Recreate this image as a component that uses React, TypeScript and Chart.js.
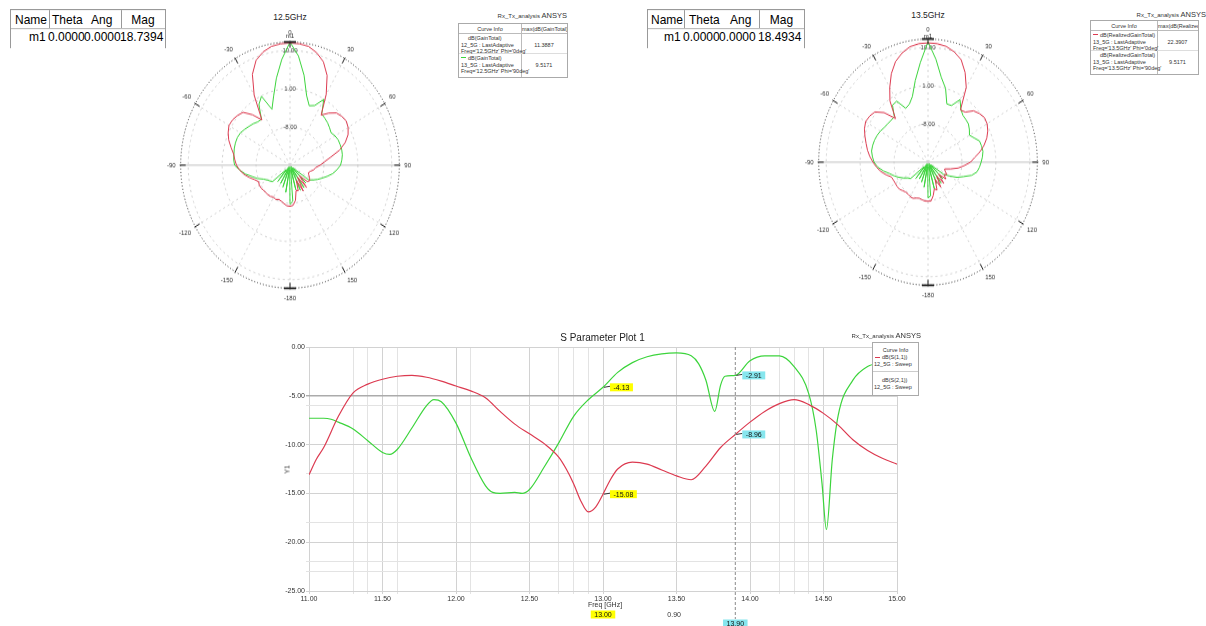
import React, { useEffect, useRef } from 'react';
import { Chart, registerables } from 'chart.js';

Chart.register(...registerables);

const FONT = '"Liberation Sans", Arial, Helvetica, sans-serif';
const RED = '#dc3a50';
const GREEN = '#3cd43c';

// ---------------- Polar (radiation pattern) data ----------------
const polarAngleLabels = [
  0, 5, 10, 15, 20, 25, 30, 35, 40, 45, 50, 55, 60, 65, 70, 75, 80, 85,
  90, 95, 100, 105, 110, 115, 120, 125, 130, 135, 140, 145, 150, 155, 160, 165, 170, 175,
  -180, -175, -170, -165, -160, -155, -150, -145, -140, -135, -130, -125, -120, -115, -110, -105, -100, -95,
  -90, -85, -80, -75, -70, -65, -60, -55, -50, -45, -40, -35, -30, -25, -20, -15, -10, -5,
];
const polarMin = -17;
const polarMax = 12;
const polarRingTicks = [-17, -8, 1, 10, 12];

const gain125Red = [
  11.8, 11.7, 11.4, 10.4, 8.9, 6.3, 2.2, -2.6, -1.0, 0.4, 0.9, 1.2, 0.8, 0.0, -1.4, -3.4, -6.0, -7.8,
  -9.0, -10.2, -10.6, -11.4, -11.8, -11.5, -11.0, -10.6, -11.0, -13.5, -10.2, -13.5, -10.0, -13.0, -10.6, -10.8, -8.6, -7.5,
  -7.3, -7.4, -7.8, -8.2, -8.4, -8.1, -8.3, -8.0, -7.9, -7.9, -7.8, -7.6, -7.6, -7.8, -7.0, -5.8, -4.6, -3.6,
  -2.8, -2.3, -1.8, -0.8, 0.3, 1.1, 1.7, 1.6, 1.2, 0.6, -1.5, -4.0, 2.0, 6.6, 9.3, 10.6, 11.4, 11.7,
];
const gain125Green = [
  12.0, 8.8, 4.5, 0.0, -2.1, -1.5, 0.9, -2.3, -2.6, -2.9, -3.3, -3.7, -3.2, -2.9, -2.85, -2.8, -2.9, -3.2,
  -3.6, -4.5, -5.5, -6.8, -8.0, -9.0, -10.0, -10.9, -16.0, -11.0, -16.5, -10.5, -16.0, -10.5, -16.5, -11.0, -16.0, -8.5,
  -7.8, -16.0, -10.5, -16.5, -11.5, -16.0, -12.0, -16.5, -12.0, -15.5, -11.0, -10.5, -10.0, -9.2, -7.8, -6.6, -5.0, -3.6,
  -2.3, -2.0, -1.9, -1.7, -1.6, -1.6, -1.8, -2.3, -2.8, -3.2, -3.7, -3.8, -0.5, 0.9, -3.0, -0.2, 3.8, 8.0,
];
const gain135Red = [
  11.1, 11.0, 10.7, 9.9, 8.7, 6.3, 3.3, -2.0, -1.6, 0.1, 0.8, 1.3, 1.1, 0.5, -0.4, -1.6, -3.0, -4.6,
  -5.7, -7.4, -8.9, -10.8, -12.3, -12.0, -11.2, -11.8, -10.8, -13.0, -10.5, -13.0, -10.2, -12.5, -10.0, -10.5, -9.0, -7.8,
  -7.8, -7.8, -8.0, -8.2, -8.0, -7.6, -7.6, -7.8, -7.8, -7.5, -7.1, -7.0, -7.0, -6.9, -6.7, -5.5, -4.3, -3.3,
  -2.4, -1.5, -0.7, 0.0, 0.8, 1.6, 2.1, 1.9, 1.4, -0.5, -3.6, 0.6, 3.3, 6.0, 8.2, 9.6, 10.6, 11.0,
];
const gain135Green = [
  11.4, 7.3, 3.3, 1.0, -2.4, -2.3, 0.0, -1.8, -2.6, -2.8, -3.0, -3.6, -4.3, -3.5, -2.45, -2.3, -2.2, -2.5,
  -2.9, -3.3, -3.8, -5.0, -7.0, -8.5, -10.5, -12.0, -16.0, -11.5, -16.5, -11.0, -16.0, -11.5, -16.5, -10.5, -16.0, -9.0,
  -8.6, -16.0, -11.0, -16.5, -12.0, -16.0, -12.5, -16.5, -12.0, -15.5, -11.0, -10.5, -9.5, -8.5, -7.5, -6.5, -5.0, -3.6,
  -2.7, -2.2, -1.8, -1.8, -1.9, -2.1, -2.4, -2.8, -3.0, -3.1, -3.1, -0.6, -0.4, -3.0, -2.5, -1.0, 2.5, 6.5,
];

// ---------------- S-parameter data ----------------
const freqS11 = [
  11.0, 11.05, 11.1, 11.2, 11.3, 11.4, 11.5, 11.6, 11.7, 11.8, 11.9, 12.0, 12.1, 12.2, 12.3, 12.4, 12.5, 12.6,
  12.7, 12.75, 12.8, 12.85, 12.9, 12.95, 13.0, 13.05, 13.1, 13.2, 13.3, 13.4, 13.5, 13.6, 13.7, 13.8, 13.9,
  14.0, 14.1, 14.2, 14.3, 14.4, 14.5, 14.6, 14.7, 14.8, 14.9, 15.0,
];
const s11Db = [
  -13.1, -11.5, -10.3, -7.1, -4.7, -3.8, -3.3, -3.0, -2.9, -3.1, -3.5, -4.0, -4.5, -5.2, -6.6, -7.9, -8.9, -9.9,
  -11.3, -12.5, -14.0, -15.8, -16.9, -16.4, -15.08, -13.6, -12.5, -11.8, -12.0, -12.6, -13.2, -13.6, -12.2, -10.3, -8.96,
  -7.7, -6.6, -5.8, -5.4, -5.9, -6.8, -8.0, -9.5, -10.6, -11.4, -12.0,
];
const freqS21 = [
  11.0, 11.1, 11.15, 11.2, 11.3, 11.4, 11.5, 11.55, 11.6, 11.7, 11.8, 11.85, 11.9, 12.0, 12.1, 12.2, 12.25, 12.3,
  12.4, 12.45, 12.5, 12.6, 12.7, 12.8, 12.9, 13.0, 13.1, 13.2, 13.3, 13.4, 13.5, 13.6, 13.65, 13.7, 13.76, 13.8,
  13.83, 13.9, 14.0, 14.1, 14.2, 14.3, 14.4, 14.45, 14.49, 14.52, 14.56, 14.6, 14.7, 14.8, 14.9, 15.0,
];
const s21Db = [
  -7.3, -7.3, -7.4, -7.7, -8.4, -9.6, -10.8, -11.0, -10.5, -8.3, -6.0, -5.4, -5.6, -7.8, -11.3, -14.2, -14.9, -15.0,
  -14.9, -15.0, -14.6, -12.3, -9.8, -7.1, -5.4, -4.13, -2.6, -1.6, -1.0, -0.7, -0.6, -0.9, -1.7, -3.4, -6.6, -3.9,
  -3.0, -2.91, -1.4, -0.9, -0.9, -2.0, -4.8, -8.5, -14.0, -18.7, -11.5, -7.0, -3.4, -2.0, -1.6, -1.4,
];
const xGridValues = [11.0, 11.3, 11.4, 11.5, 11.6, 12.0, 12.1, 12.5, 12.7, 12.8, 12.9, 13.0, 13.5, 14.0, 14.2, 14.3, 14.4, 14.5, 15.0];
const yGridValues = [-25, -23, -22, -20, -18, -15, -13, -10, -6, -5, 0];
const markerFreq = [13.0, 13.9];
const markerS21 = [-4.13, -2.91];
const markerS11 = [-15.08, -8.96];
const markerColor = ['#ffff00', '#86e6ee'];

// ---------------- plugins ----------------
const polarDecor = {
  id: 'polarDecor',
  afterDraw(chart: any) {
    const r = chart.scales.r;
    const ctx = chart.ctx;
    const R = r.drawingArea;
    ctx.save();
    ctx.strokeStyle = '#222';
    ctx.lineWidth = 1;
    for (let i = 0; i < chart.data.labels.length; i += 6) {
      const a = r.getPointPosition(i, R - 5);
      const b = r.getPointPosition(i, R + 1);
      ctx.beginPath();
      ctx.moveTo(a.x, a.y);
      ctx.lineTo(b.x, b.y);
      ctx.stroke();
    }
    ctx.lineWidth = 1.6;
    ctx.beginPath();
    ctx.moveTo(r.xCenter - 6, r.yCenter - R);
    ctx.lineTo(r.xCenter + 6, r.yCenter - R);
    ctx.moveTo(r.xCenter - 6, r.yCenter + R);
    ctx.lineTo(r.xCenter + 6, r.yCenter + R);
    ctx.stroke();
    const g = chart.data.datasets[1].data[0];
    const p = r.getPointPosition(0, r.getDistanceFromCenterForValue(g));
    ctx.fillStyle = '#222';
    ctx.font = `6px ${FONT}`;
    ctx.textAlign = 'center';
    ctx.textBaseline = 'bottom';
    ctx.fillText('m1', p.x, p.y - 2);
    ctx.restore();
  },
};

function drawTag(ctx: any, text: string, x: number, y: number, bg: string, center: boolean) {
  ctx.font = `7px ${FONT}`;
  const w = ctx.measureText(text).width + 7;
  const h = 8;
  const bx = center ? x - w / 2 : x;
  ctx.fillStyle = bg;
  ctx.fillRect(bx, y - h / 2, w, h);
  ctx.fillStyle = '#111';
  ctx.textAlign = 'left';
  ctx.textBaseline = 'middle';
  ctx.fillText(text, bx + 3.5, y + 0.5);
}

const sMarkers = {
  id: 'sMarkers',
  afterDatasetsDraw(chart: any) {
    const { ctx, chartArea } = chart;
    const x = chart.scales.x;
    const y = chart.scales.y;
    ctx.save();
    const xm = x.getPixelForValue(markerFreq[1]);
    ctx.strokeStyle = '#8a8a8a';
    ctx.lineWidth = 1;
    ctx.setLineDash([3, 2]);
    ctx.beginPath();
    ctx.moveTo(xm, chartArea.top);
    ctx.lineTo(xm, chartArea.bottom + 28);
    ctx.stroke();
    ctx.setLineDash([]);
    markerFreq.forEach((f, i) => {
      const px = x.getPixelForValue(f);
      [markerS21[i], markerS11[i]].forEach((v) => {
        const py = y.getPixelForValue(v);
        ctx.strokeStyle = '#333';
        ctx.beginPath();
        ctx.moveTo(px + 1, py);
        ctx.lineTo(px + 7, py - 1);
        ctx.stroke();
        drawTag(ctx, v.toFixed(2), px + 7, py, markerColor[i], false);
      });
      drawTag(ctx, f.toFixed(2), px, chartArea.bottom + 23.5 + i * 9, markerColor[i], true);
    });
    const p0 = x.getPixelForValue(markerFreq[0]);
    const p1 = x.getPixelForValue(markerFreq[1]);
    ctx.fillStyle = '#333';
    ctx.font = `7px ${FONT}`;
    ctx.textAlign = 'center';
    ctx.textBaseline = 'middle';
    ctx.fillText((markerFreq[1] - markerFreq[0]).toFixed(2), (p0 + p1) / 2 + 5, chartArea.bottom + 24);
    ctx.restore();
  },
};

// ---------------- components ----------------
function PolarChart({ left, top, red, green, sy }: any) {
  const ref = useRef<HTMLCanvasElement>(null);
  useEffect(() => {
    const chart = new Chart(ref.current as HTMLCanvasElement, {
      type: 'radar',
      data: {
        labels: polarAngleLabels.map(String),
        datasets: [
          { data: red, borderColor: RED, borderWidth: 1, pointRadius: 0, fill: false, tension: 0 },
          { data: green, borderColor: GREEN, borderWidth: 1, pointRadius: 0, fill: false, tension: 0 },
        ],
      },
      options: {
        animation: false,
        responsive: false,
        plugins: { legend: { display: false }, tooltip: { enabled: false } },
        scales: {
          r: {
            min: polarMin,
            max: polarMax,
            afterBuildTicks: (s: any) => {
              s.ticks = polarRingTicks.map((v) => ({ value: v }));
            },
            ticks: {
              display: true,
              showLabelBackdrop: false,
              backdropPadding: 0,
              font: { size: 6, family: FONT },
              color: '#444',
              callback: (v: any) =>
                Number(v) === polarMax || Number(v) === polarMin ? '' : Number(v).toFixed(2),
            },
            grid: {
              circular: true,
              color: (c: any) => (c.tick && c.tick.value === polarMax ? '#333' : '#cfcfcf'),
              lineWidth: 1,
            },
            border: {
              dash: (c: any) => (c.tick && c.tick.value === polarMax ? [1, 2] : [2, 3]),
            },
            angleLines: {
              color: (c: any) =>
                c.index % 18 === 0 && c.index % 36 !== 0 ? '#c4c4c4' : c.index % 6 === 0 ? '#d4d4d4' : 'rgba(0,0,0,0)',
              lineWidth: (c: any) => (c.index % 6 === 0 ? 1 : 0),
              borderDash: (c: any) => (c.index % 18 === 0 && c.index % 36 !== 0 ? [] : [2, 3]),
            },
            pointLabels: {
              font: { size: 6, family: FONT },
              color: '#333',
              padding: 2,
              callback: (l: any, i: number) => (i % 6 === 0 ? l : ''),
            },
          },
        },
      } as any,
      plugins: [polarDecor],
    } as any);
    return () => chart.destroy();
  }, []);
  return (
    <div
      style={{
        position: 'absolute',
        left,
        top,
        width: 246,
        height: 252,
        transform: `scaleY(${sy})`,
        transformOrigin: '123px 125px',
      }}
    >
      <canvas ref={ref} width={246} height={252} style={{ display: 'block' }} />
    </div>
  );
}

function SParamChart() {
  const ref = useRef<HTMLCanvasElement>(null);
  useEffect(() => {
    const chart = new Chart(ref.current as HTMLCanvasElement, {
      type: 'line',
      data: {
        datasets: [
          {
            data: freqS11.map((f, i) => ({ x: f, y: s11Db[i] })),
            borderColor: RED,
            borderWidth: 1.2,
            pointRadius: 0,
            fill: false,
            cubicInterpolationMode: 'monotone',
          },
          {
            data: freqS21.map((f, i) => ({ x: f, y: s21Db[i] })),
            borderColor: GREEN,
            borderWidth: 1.2,
            pointRadius: 0,
            fill: false,
            cubicInterpolationMode: 'monotone',
          },
        ],
      },
      options: {
        animation: false,
        responsive: false,
        layout: { padding: { left: 0, right: 23, top: 17, bottom: 0 } },
        plugins: { legend: { display: false }, title: { display: false }, tooltip: { enabled: false } },
        scales: {
          x: {
            type: 'linear',
            min: 11,
            max: 15,
            afterBuildTicks: (s: any) => {
              s.ticks = xGridValues.map((v) => ({ value: v }));
            },
            afterFit: (s: any) => {
              s.height = 39;
            },
            ticks: {
              autoSkip: false,
              maxRotation: 0,
              padding: 1,
              font: { size: 7, family: FONT },
              color: '#333',
              callback: (v: any) => {
                const n = Number(v);
                return Math.abs(n * 2 - Math.round(n * 2)) < 1e-6 ? n.toFixed(2) : '';
              },
            },
            grid: {
              color: (c: any) => {
                const n = c.tick ? c.tick.value : 0;
                return Math.abs(n * 2 - Math.round(n * 2)) < 1e-6 ? '#d2d2d2' : '#e3e3e3';
              },
              tickLength: 3,
            },
            border: { display: false },
          },
          y: {
            min: -25,
            max: 0,
            afterBuildTicks: (s: any) => {
              s.ticks = yGridValues.map((v) => ({ value: v }));
            },
            afterFit: (s: any) => {
              s.width = 69;
            },
            ticks: {
              autoSkip: false,
              padding: 1,
              font: { size: 7, family: FONT },
              color: '#333',
              callback: (v: any) => (Number(v) % 5 === 0 ? Number(v).toFixed(2) : ''),
            },
            grid: {
              color: (c: any) => {
                const n = c.tick ? c.tick.value : 0;
                if (n === -5) return '#ababab';
                return n % 5 === 0 ? '#d2d2d2' : '#e3e3e3';
              },
              lineWidth: (c: any) => (c.tick && c.tick.value === -5 ? 1.4 : 1),
              tickLength: 3,
            },
            border: { display: false },
          },
        },
      } as any,
      plugins: [sMarkers],
    } as any);
    return () => chart.destroy();
  }, []);
  return (
    <div style={{ position: 'absolute', left: 240, top: 330, width: 680, height: 300 }}>
      <canvas ref={ref} width={680} height={300} style={{ display: 'block' }} />
    </div>
  );
}

function MarkerTable({ left, cols, mag, width }: any) {
  const base: any = { position: 'absolute', whiteSpace: 'nowrap', lineHeight: '14px' };
  return (
    <div
      style={{
        position: 'absolute',
        left,
        top: 9,
        width,
        height: 34,
        border: '1px solid #999',
        borderBottom: 'none',
        fontFamily: FONT,
        fontSize: 12,
        color: '#000',
        background: '#fff',
        transform: 'scaleY(1.12)',
        transformOrigin: 'top left',
      }}
    >
      <div style={{ position: 'absolute', left: 0, top: 16, width, height: 1, background: '#bbb' }} />
      <div style={{ position: 'absolute', left: cols[0], top: 0, width: 1, height: 16, background: '#999' }} />
      <div style={{ position: 'absolute', left: cols[3], top: 0, width: 1, height: 16, background: '#999' }} />
      <span style={{ ...base, left: 2, top: 1, width: cols[0] - 2, textAlign: 'center' }}>Name</span>
      <span style={{ ...base, left: cols[1], top: 1 }}>Theta</span>
      <span style={{ ...base, left: cols[2], top: 1 }}>Ang</span>
      <span style={{ ...base, left: cols[3], top: 1, width: width - cols[3], textAlign: 'center' }}>Mag</span>
      <span style={{ ...base, left: 0, top: 17, width: cols[0], textAlign: 'right', paddingRight: 0 }}>m1&nbsp;</span>
      <span style={{ ...base, left: cols[0] - 1, top: 17 }}>0.0000</span>
      <span style={{ ...base, left: cols[0] + 35, top: 17 }}>0.0000</span>
      <span style={{ ...base, left: cols[3] - 1, top: 17 }}>{mag}</span>
    </div>
  );
}

function PolarLegend({ left, top, width, sep, rows, header }: any) {
  const t: any = { position: 'absolute', whiteSpace: 'nowrap', fontSize: 5.5, lineHeight: '6.5px', color: '#333' };
  return (
    <div
      style={{
        position: 'absolute',
        left,
        top,
        width,
        height: 53,
        border: '1px solid #aaa',
        background: '#fff',
        fontFamily: FONT,
      }}
    >
      <div style={{ position: 'absolute', left: sep, top: 0, width: 1, height: 53, background: '#bbb' }} />
      <div style={{ position: 'absolute', left: 0, top: 9, width, height: 1, background: '#bbb' }} />
      <div style={{ position: 'absolute', left: 0, top: 29, width, height: 1, background: '#ddd' }} />
      <span style={{ ...t, left: 0, top: 2, width: sep, textAlign: 'center' }}>Curve Info</span>
      <span style={{ ...t, left: sep + 1, top: 2, width: width - sep - 1, textAlign: 'center', overflow: 'hidden' }}>{header}</span>
      {rows.map((r: any, k: number) => (
        <React.Fragment key={k}>
          {r.color ? (
            <div style={{ position: 'absolute', left: 2, top: 13 + k * 20, width: 5, height: 1, background: r.color }} />
          ) : null}
          <span style={{ ...t, left: 9, top: 11 + k * 20 }}>{r.l1}</span>
          <span style={{ ...t, left: 2, top: 17.5 + k * 20 }}>{r.l2}</span>
          <span style={{ ...t, left: 2, top: 24 + k * 20 }}>{r.l3}</span>
          <span style={{ ...t, left: sep, top: 17.5 + k * 20, width: width - sep, textAlign: 'center' }}>{r.v}</span>
        </React.Fragment>
      ))}
    </div>
  );
}

function Brand({ right, top }: any) {
  return (
    <div
      style={{
        position: 'absolute',
        right,
        top,
        fontFamily: FONT,
        whiteSpace: 'nowrap',
        color: '#333',
        fontSize: 6,
      }}
    >
      Rx_Tx_analysis <span style={{ fontSize: 7.5 }}>ANSYS</span>
    </div>
  );
}

export default function App() {
  return (
    <div
      style={{
        position: 'absolute',
        left: 0,
        top: 0,
        width: 1206,
        height: 626,
        overflow: 'hidden',
        background: '#fff',
        fontFamily: FONT,
      }}
    >
      <MarkerTable left={10} width={154} cols={[38, 41, 80, 110]} mag="18.7394" />
      <MarkerTable left={647} width={156} cols={[36, 41, 82, 111]} mag="18.4934" />

      <div style={{ position: 'absolute', left: 240, top: 12, width: 100, textAlign: 'center', fontSize: 8.5, color: '#222' }}>
        12.5GHz
      </div>
      <div style={{ position: 'absolute', left: 878, top: 10, width: 100, textAlign: 'center', fontSize: 8.5, color: '#222' }}>
        13.5GHz
      </div>

      <Brand right={1206 - 567} top={11} />
      <PolarLegend
        left={458}
        top={23}
        width={108}
        sep={62}
        header="max(dB(GainTotal))"
        rows={[
          { l1: 'dB(GainTotal)', l2: '12_5G : LastAdaptive', l3: "Freq='12.5GHz' Phi='0deg'", v: '11.3887' },
          { color: GREEN, l1: 'dB(GainTotal)', l2: '13_5G : LastAdaptive', l3: "Freq='12.5GHz' Phi='90deg'", v: '9.5171' },
        ]}
      />
      <Brand right={0} top={10} />
      <PolarLegend
        left={1090}
        top={20}
        width={107}
        sep={66}
        header="max(dB(RealizedGain))"
        rows={[
          { color: RED, l1: 'dB(RealizedGainTotal)', l2: '13_5G : LastAdaptive', l3: "Freq='13.5GHz' Phi='0deg'", v: '22.3907' },
          { l1: 'dB(RealizedGainTotal)', l2: '13_5G : LastAdaptive', l3: "Freq='13.5GHz' Phi='90deg'", v: '9.5171' },
        ]}
      />

      <PolarChart left={167} top={39} red={gain125Red} green={gain125Green} sy={1.126} />
      <PolarChart left={805} top={36} red={gain135Red} green={gain135Green} sy={1.126} />

      <SParamChart />

      <div style={{ position: 'absolute', left: 500, top: 332, width: 205, textAlign: 'center', fontSize: 10, color: '#222' }}>
        S Parameter Plot 1
      </div>
      <Brand right={1206 - 921} top={331} />
      <div
        style={{
          position: 'absolute',
          left: 872,
          top: 342,
          width: 45,
          height: 52,
          border: '1px solid #aaa',
          background: '#fff',
          fontSize: 5.5,
          color: '#333',
          lineHeight: '6.5px',
          whiteSpace: 'nowrap',
        }}
      >
        <div style={{ position: 'absolute', left: 0, top: 4, width: 45, textAlign: 'center' }}>Curve Info</div>
        <div style={{ position: 'absolute', left: 2, top: 14, width: 5, height: 1, background: RED }} />
        <div style={{ position: 'absolute', left: 9, top: 11 }}>dB(S(1,1))</div>
        <div style={{ position: 'absolute', left: 1, top: 18 }}>12_5G : Sweep</div>
        <div style={{ position: 'absolute', left: 0, top: 28, width: 45, height: 1, background: '#ccc' }} />
        <div style={{ position: 'absolute', left: 9, top: 34 }}>dB(S(2,1))</div>
        <div style={{ position: 'absolute', left: 1, top: 41 }}>12_5G : Sweep</div>
      </div>

      <div
        style={{
          position: 'absolute',
          left: 272,
          top: 466,
          width: 30,
          textAlign: 'center',
          fontSize: 7,
          color: '#333',
          transform: 'rotate(-90deg)',
        }}
      >
        Y1
      </div>
      <div style={{ position: 'absolute', left: 570, top: 601, width: 70, textAlign: 'center', fontSize: 7, color: '#333' }}>
        Freq [GHz]
      </div>
    </div>
  );
}
